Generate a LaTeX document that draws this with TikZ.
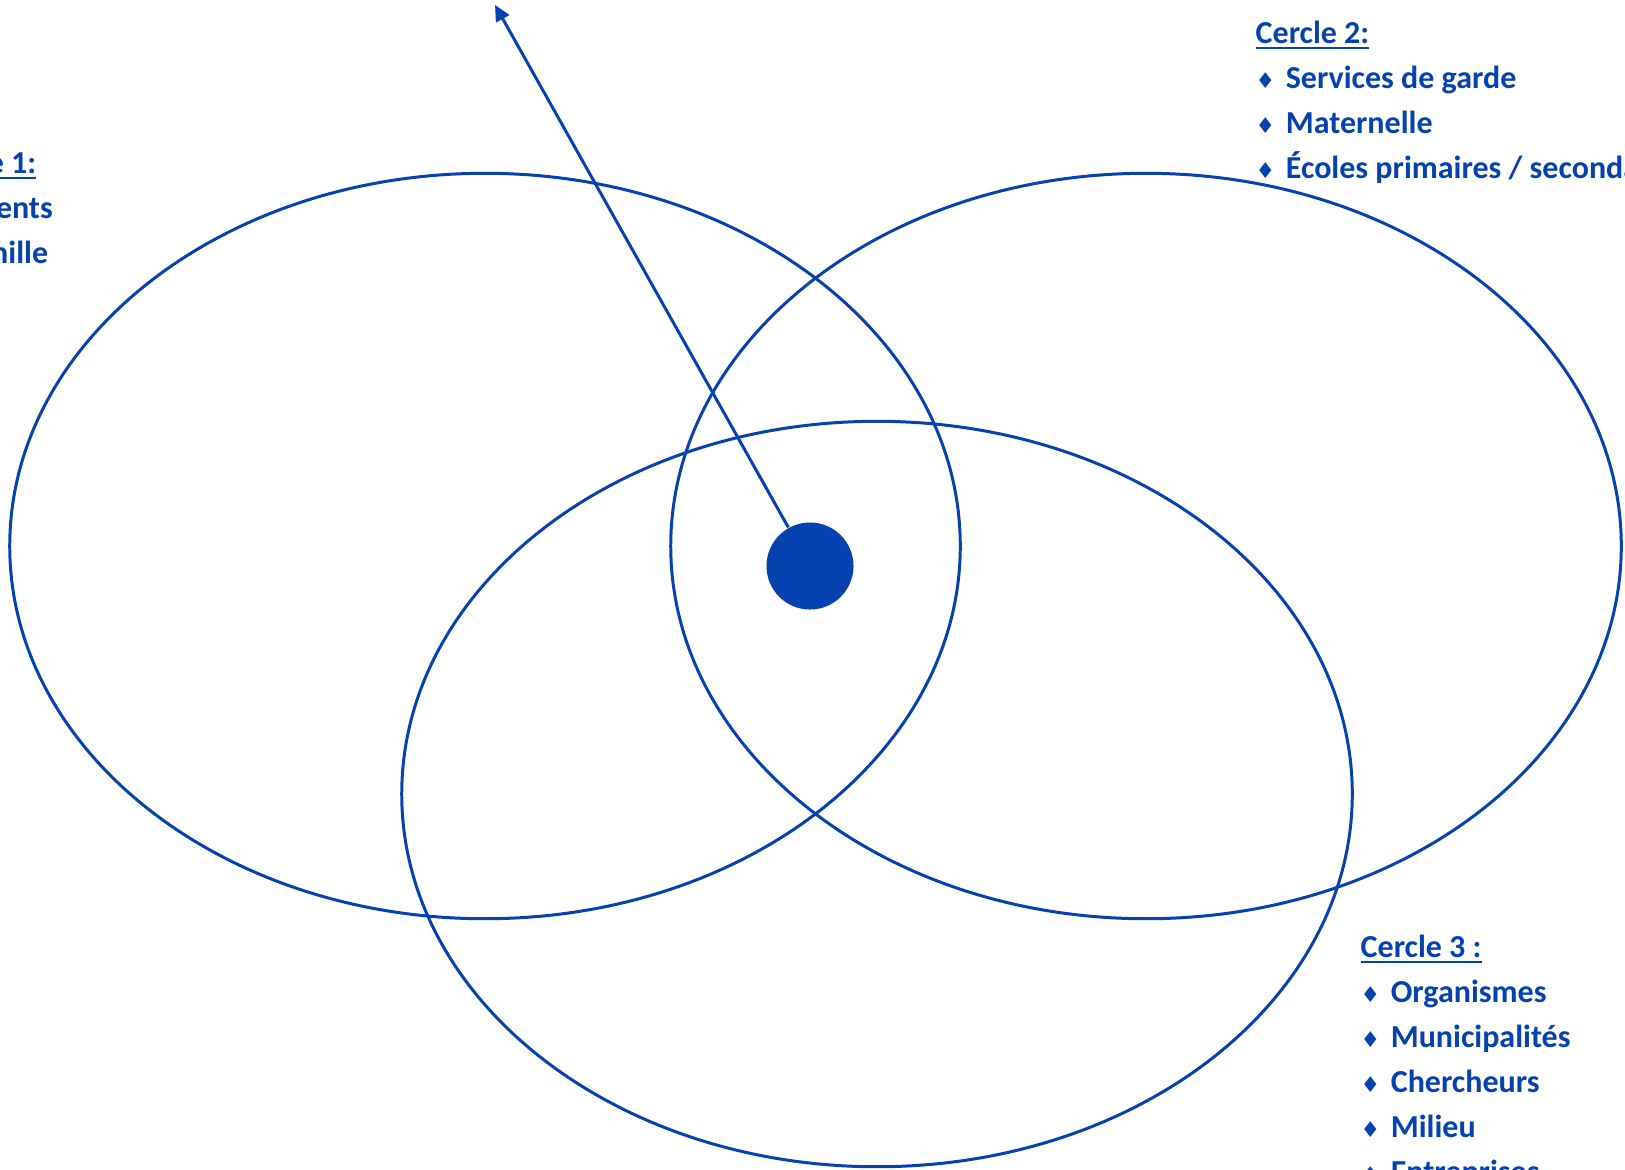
\documentclass[tikz,border=0pt]{standalone}
\usepackage{fontspec}
\setmainfont{Carlito}
\newfontfamily\diamondfont{DejaVu Sans}
\usepackage{xcolor}
\definecolor{Royal}{RGB}{5, 65, 175}
\usetikzlibrary{arrows.meta, shapes.geometric}

\newcommand{\itemmark}{{\diamondfont\fontsize{6.2pt}{7pt}\selectfont ♦}\hspace{3pt}}

\begin{document}
\begin{tikzpicture}[
    x=0.01cm, y=-0.01cm,
    ring/.style={ellipse, draw=Royal, line width=0.85pt, minimum width=9.5cm, minimum height=7.45cm, inner sep=0pt},
    hub/.style={circle, fill=Royal, minimum size=0.87cm, inner sep=0pt},
    heading/.style={anchor=base west, inner sep=0pt, text=Royal, font=\fontsize{9.1pt}{11pt}\selectfont\bfseries},
    entry/.style={heading},
    arrow/.style={-{Triangle[length=4.5pt, width=4.2pt]}, line width=0.85pt, Royal}
]
\useasboundingbox (0,0) rectangle (1625,1169);
\clip (0,0) rectangle (1625,1169);

% Circles
\node[ring] (c1) at (485,546) {};
\node[ring] (c2) at (1146,546) {};
\node[ring] (c3) at (877,794) {};

% Centre dot and arrow
\node[hub] (dot) at (810,566) {};
\coordinate (tip) at (495,5);
\draw[arrow] (dot) -- (tip);

% Circle 1 list
\node[heading] (t1) at (-78,173) {\underline{Cercle 1:}};
\foreach \name [count=\i] in {Parents, Famille}
    \node[entry] (t1-\i) at (-78,173+\i*45) {\itemmark\name};

% Circle 2 list
\node[heading] (t2) at (1255,43) {\underline{Cercle 2:}};
\foreach \name [count=\i] in {{Services de garde}, {Maternelle}, {Écoles primaires / secondaires}}
    \node[entry] (t2-\i) at (1255,43+\i*45) {\itemmark\name};

% Circle 3 list
\node[heading] (t3) at (1360,957) {\underline{Cercle 3 :}};
\foreach \name [count=\i] in {Organismes, Municipalités, Chercheurs, Milieu, Entreprises}
    \node[entry] (t3-\i) at (1360,957+\i*45) {\itemmark\name};

\end{tikzpicture}
\end{document}
